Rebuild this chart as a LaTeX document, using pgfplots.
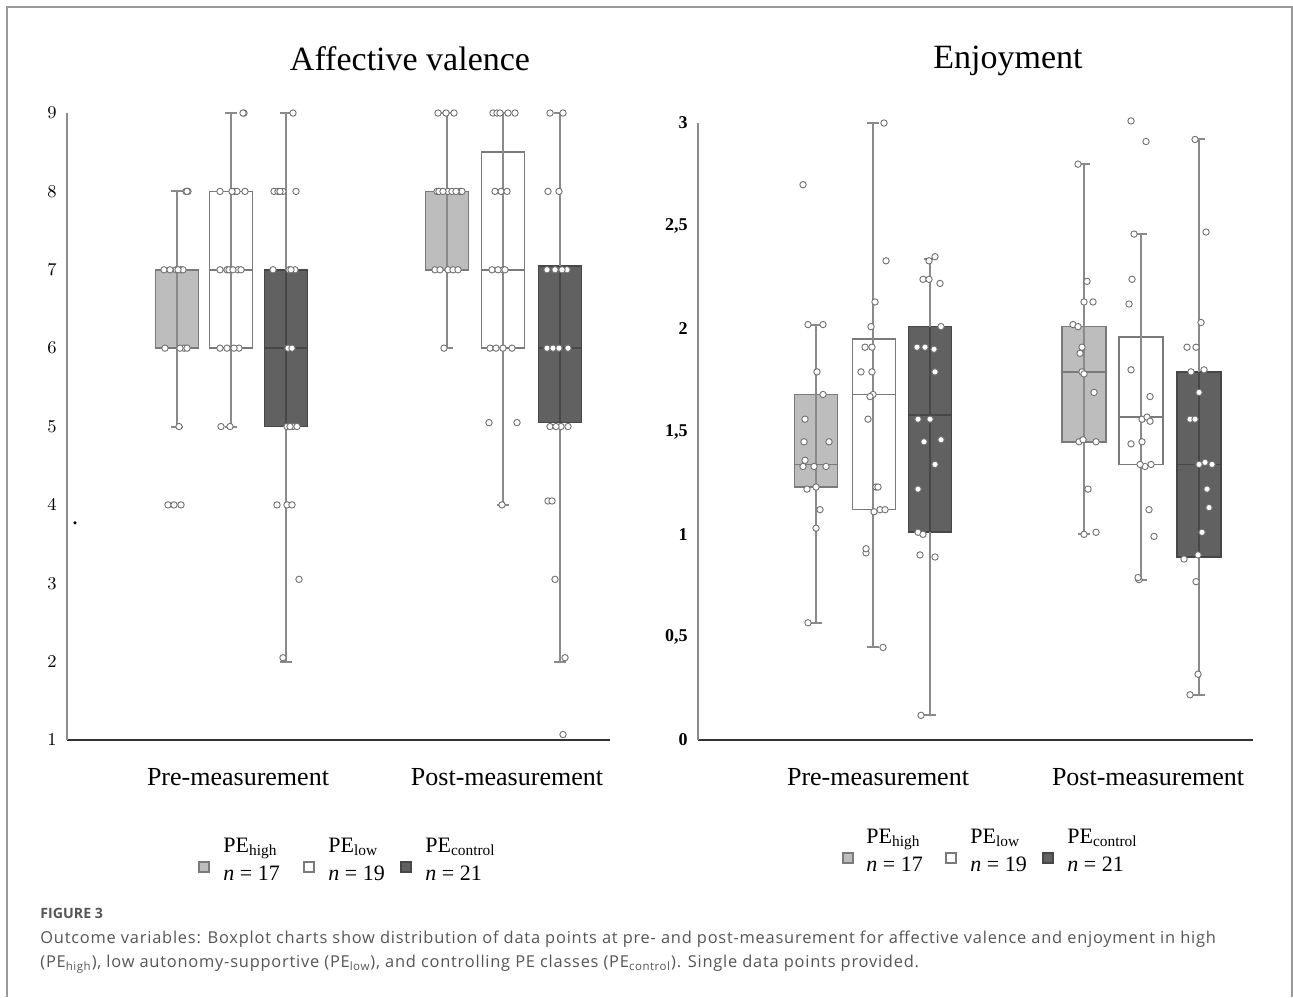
\documentclass[border=0pt]{standalone}
\usepackage{pgfplots}
\pgfplotsset{compat=1.18}
\usepackage{fontspec}
\setmainfont{Liberation Serif}
\newfontfamily\capfont[LetterSpace=4.8]{Open Sans}
\newfontfamily\figfont{Open Sans}
\definecolor{lfill}{HTML}{BDBDBD}
\definecolor{ledge}{HTML}{7A7A7A}
\definecolor{dfill}{HTML}{616161}
\definecolor{dedge}{HTML}{474747}
\definecolor{wcol}{HTML}{8A8A8A}
\definecolor{ptedge}{HTML}{707070}
\definecolor{axgray}{HTML}{8C8C8C}
\definecolor{axdark}{HTML}{333333}
\definecolor{captext}{HTML}{555555}
\pgfplotsset{
  panel/.style={scale only axis, clip=false, axis lines*=left,
    x axis line style={draw=axdark, line width=1.2pt},
    y axis line style={draw=axgray, line width=0.9pt},
    major tick length=0pt, tick style={draw=none},
    xticklabel style={anchor=base, inner sep=0pt, yshift=-22.5pt, font=\fontsize{13}{15}\selectfont},
    yticklabel style={anchor=east, inner sep=0pt, xshift=-5pt, font=\fontsize{9}{10}\selectfont\bfseries},
  },
  lbox/.style={fill=lfill, draw=ledge, line width=0.8pt, mark=none},
  wbox/.style={fill=white, draw=ledge, line width=0.8pt, mark=none},
  dbox/.style={fill=dfill, draw=dedge, line width=0.8pt, mark=none},
  wline/.style={draw=wcol, line width=1pt, mark=none},
  wlined/.style={draw=dedge, line width=1pt, mark=none},
  medl/.style={draw=ledge, line width=0.8pt, mark=none},
  medd/.style={draw=dedge, line width=0.8pt, mark=none},
  pts/.style={only marks, mark=*, mark size=1.6pt, mark options={fill=white, draw=ptedge, line width=0.45pt}},
}
\begin{document}
\begin{tikzpicture}
% ---------------- Affective valence ----------------
\begin{axis}[panel, at={(33.5pt,-370pt)}, anchor=south west,
  width=271.5pt, height=313.5pt, xmin=67, xmax=610, ymin=1, ymax=9,
  xtick={238,507}, xticklabels={Pre-measurement,Post-measurement},
  ytick={1,2,3,4,5,6,7,8,9}]
% boxes (quartiles)
\addplot[lbox] coordinates {(155.5,6) (198.5,6) (198.5,7) (155.5,7)} --cycle;
\addplot[wbox] coordinates {(209.5,6) (252.5,6) (252.5,8) (209.5,8)} --cycle;
\addplot[dbox] coordinates {(264.5,5) (307.5,5) (307.5,7) (264.5,7)} --cycle;
\addplot[lbox] coordinates {(425.5,7) (468.5,7) (468.5,8) (425.5,8)} --cycle;
\addplot[wbox] coordinates {(481.5,6) (524.5,6) (524.5,8.5) (481.5,8.5)} --cycle;
\addplot[dbox] coordinates {(538.5,5.05) (581.5,5.05) (581.5,7.05) (538.5,7.05)} --cycle;
% whiskers
\addplot[wline] coordinates {(177,5) (177,8)};
\addplot[wline] coordinates {(231,5) (231,9)};
\addplot[wline] coordinates {(286,2) (286,9)};
\addplot[wlined] coordinates {(286,5) (286,7)};
\addplot[wline] coordinates {(447,6) (447,9)};
\addplot[wline] coordinates {(503,4) (503,9)};
\addplot[wline] coordinates {(560,2) (560,9)};
\addplot[wlined] coordinates {(560,5.05) (560,7.05)};
% caps
\addplot[wline] coordinates {(171,8) (183,8)};
\addplot[wline] coordinates {(171,5) (183,5)};
\addplot[wline] coordinates {(225,9) (237,9)};
\addplot[wline] coordinates {(225,5) (237,5)};
\addplot[wline] coordinates {(280,9) (292,9)};
\addplot[wline] coordinates {(280,2) (292,2)};
\addplot[wline] coordinates {(441,9) (453,9)};
\addplot[wline] coordinates {(441,6) (453,6)};
\addplot[wline] coordinates {(497,9) (509,9)};
\addplot[wline] coordinates {(497,4) (509,4)};
\addplot[wline] coordinates {(554,9) (566,9)};
\addplot[wline] coordinates {(554,2) (566,2)};
% medians
\addplot[medl] coordinates {(155.5,7) (198.5,7)};
\addplot[medl] coordinates {(209.5,7) (252.5,7)};
\addplot[medd] coordinates {(264.5,6) (307.5,6)};
\addplot[medl] coordinates {(425.5,8) (468.5,8)};
\addplot[medl] coordinates {(481.5,7) (524.5,7)};
\addplot[medd] coordinates {(538.5,6) (581.5,6)};
% data points
\addplot[pts] coordinates {(186,8) (188,8) (187,8) (164,7) (176,7) (181,7) (183,7) (178,7) (170,7) (165,6) (184,6) (187,6) (180,6) (179,5) (168,4) (174,4) (181,4)};
\addplot[pts] coordinates {(244,9) (243,9) (220,8) (235,8) (237,8) (245,8) (232,8) (220,7) (227,7) (229,7) (238,7) (241,7) (233,7) (220,6) (227,6) (239,6) (234,6) (221,5) (230,5)};
\addplot[pts] coordinates {(293,9) (274,8) (278,8) (283,8) (296,8) (280,8) (273,7) (289,7) (295,7) (291,7) (288,6) (292,6) (287,5) (293,5) (297,5) (290,5) (277,4) (287,4) (292,4) (299,3.05) (283,2.05)};
\addplot[pts] coordinates {(438,9) (454,9) (446,9) (437,8) (439,8) (448,8) (460,8) (462,8) (443,8) (452,8) (456,8) (435,7) (448,7) (453,7) (440,7) (458,7) (444,6)};
\addplot[pts] coordinates {(493,9) (497,9) (515,9) (500,9) (508,9) (501,8) (507,8) (495,8) (492,7) (503,7) (505,7) (498,7) (490,6) (503,6) (512,6) (496,6) (489,5.05) (517,5.05) (502,4)};
\addplot[pts] coordinates {(550,9) (563,9) (548,8) (559,8) (547,7) (555,7) (567,7) (562,7) (547,6) (553,6) (559,6) (568,6) (550,5) (561,5) (568,5) (556,5) (548,4.05) (552,4.05) (555,3.05) (565,2.05) (563,1.07)};
\addplot[only marks, mark=*, mark size=0.6pt, black] coordinates {(75,3.77)};
\end{axis}
% ---------------- Enjoyment ----------------
\begin{axis}[panel, at={(349pt,-370pt)}, anchor=south west,
  width=277.5pt, height=308.5pt, xmin=698, xmax=1253, ymin=0, ymax=3,
  xtick={878,1148}, xticklabels={Pre-measurement,Post-measurement},
  ytick={0,0.5,1,1.5,2,2.5,3}, yticklabels={0,{0,5},1,{1,5},2,{2,5},3}]
% boxes
\addplot[lbox] coordinates {(794.5,1.23) (837.5,1.23) (837.5,1.68) (794.5,1.68)} --cycle;
\addplot[wbox] coordinates {(852.5,1.12) (895.5,1.12) (895.5,1.95) (852.5,1.95)} --cycle;
\addplot[dbox] coordinates {(908.5,1.01) (951.5,1.01) (951.5,2.01) (908.5,2.01)} --cycle;
\addplot[lbox] coordinates {(1062,1.45) (1106,1.45) (1106,2.01) (1062,2.01)} --cycle;
\addplot[wbox] coordinates {(1119,1.34) (1163,1.34) (1163,1.96) (1119,1.96)} --cycle;
\addplot[dbox] coordinates {(1177,0.89) (1221,0.89) (1221,1.79) (1177,1.79)} --cycle;
% whiskers
\addplot[wline] coordinates {(816,0.57) (816,2.02)};
\addplot[wline] coordinates {(873,0.45) (873,3.0)};
\addplot[wline] coordinates {(930,0.12) (930,2.34)};
\addplot[wlined] coordinates {(930,1.01) (930,2.01)};
\addplot[wline] coordinates {(1084,1.0) (1084,2.80)};
\addplot[wline] coordinates {(1141,0.78) (1141,2.46)};
\addplot[wline] coordinates {(1199,0.22) (1199,2.92)};
\addplot[wlined] coordinates {(1199,0.89) (1199,1.79)};
% caps
\addplot[wline] coordinates {(810,2.02) (822,2.02)};
\addplot[wline] coordinates {(810,0.57) (822,0.57)};
\addplot[wline] coordinates {(867,3.0) (879,3.0)};
\addplot[wline] coordinates {(867,0.45) (879,0.45)};
\addplot[wline] coordinates {(924,2.34) (936,2.34)};
\addplot[wline] coordinates {(924,0.12) (936,0.12)};
\addplot[wline] coordinates {(1078,2.80) (1090,2.80)};
\addplot[wline] coordinates {(1078,1.0) (1090,1.0)};
\addplot[wline] coordinates {(1135,2.46) (1147,2.46)};
\addplot[wline] coordinates {(1135,0.78) (1147,0.78)};
\addplot[wline] coordinates {(1193,2.92) (1205,2.92)};
\addplot[wline] coordinates {(1193,0.22) (1205,0.22)};
% medians
\addplot[medl] coordinates {(794.5,1.34) (837.5,1.34)};
\addplot[medl] coordinates {(852.5,1.68) (895.5,1.68)};
\addplot[medd] coordinates {(908.5,1.58) (951.5,1.58)};
\addplot[medl] coordinates {(1062,1.79) (1106,1.79)};
\addplot[medl] coordinates {(1119,1.57) (1163,1.57)};
\addplot[medd] coordinates {(1177,1.34) (1221,1.34)};
% data points
\addplot[pts] coordinates {(803,2.70) (808,2.02) (823,2.02) (817,1.79) (823,1.68) (805,1.56) (804,1.45) (829,1.45) (803,1.33) (814,1.33) (826,1.33) (805,1.36) (807,1.22) (816,1.23) (820,1.12) (816,1.03) (808,0.57)};
\addplot[pts] coordinates {(884,3.0) (886,2.33) (875,2.13) (871,2.01) (865,1.91) (872,1.91) (861,1.79) (872,1.79) (873,1.68) (868,1.56) (876,1.23) (878,1.23) (874,1.11) (880,1.12) (885,1.12) (866,0.91) (866,0.93) (883,0.45) (870,1.67)};
\addplot[pts] coordinates {(935,2.35) (929,2.33) (923,2.24) (929,2.24) (940,2.22) (941,2.01) (917,1.91) (925,1.91) (934,1.90) (935,1.79) (918,1.56) (930,1.56) (924,1.45) (941,1.46) (935,1.34) (918,1.22) (918,1.01) (923,1.00) (920,0.90) (935,0.89) (921,0.12)};
\addplot[pts] coordinates {(1078,2.80) (1087,2.23) (1084,2.13) (1093,2.13) (1073,2.02) (1078,2.01) (1082,1.91) (1080,1.88) (1082,1.79) (1084,1.78) (1094,1.69) (1079,1.45) (1083,1.46) (1096,1.45) (1088,1.22) (1084,1.00) (1096,1.01)};
\addplot[pts] coordinates {(1131,3.01) (1146,2.91) (1134,2.46) (1132,2.24) (1129,2.12) (1131,1.80) (1150,1.67) (1142,1.56) (1147,1.57) (1150,1.55) (1131,1.44) (1142,1.45) (1151,1.34) (1145,1.33) (1140,1.34) (1149,1.12) (1154,0.99) (1139,0.78) (1138,0.79)};
\addplot[pts] coordinates {(1195,2.92) (1206,2.47) (1201,2.03) (1187,1.91) (1196,1.91) (1191,1.79) (1204,1.80) (1199,1.69) (1190,1.56) (1195,1.56) (1199,1.34) (1205,1.35) (1212,1.34) (1207,1.22) (1209,1.13) (1202,1.01) (1198,0.90) (1184,0.88) (1196,0.77) (1198,0.32) (1190,0.22)};
\end{axis}
% ---------------- text, legends, caption ----------------
\begin{scope}[x=0.5pt,y=-0.5pt]
\draw[draw=black!40, line width=0.6pt] (7,997) -- (7,7) -- (1292,7) -- (1292,997);
\node[anchor=base, inner sep=0pt, font=\fontsize{17}{20}\selectfont] at (410,70) {Affective valence};
\node[anchor=base, inner sep=0pt, font=\fontsize{17}{20}\selectfont] at (1008,68) {Enjoyment};
% left legend
\draw[fill=lfill, draw=ledge, line width=0.6pt] (199,862) rectangle (209,872);
\draw[fill=white, draw=ledge, line width=0.6pt] (304,862) rectangle (314,872);
\draw[fill=dfill, draw=dedge, line width=0.6pt] (401,862) rectangle (411,872);
\begin{scope}[every node/.style={anchor=base west, inner sep=0pt, font=\fontsize{11}{13}\selectfont}]
\node at (223,852) {PE\textsubscript{high}};
\node at (223,880) {\textit{n} = 17};
\node at (328,852) {PE\textsubscript{low}};
\node at (328,880) {\textit{n} = 19};
\node at (425,852) {PE\textsubscript{control}};
\node at (425,880) {\textit{n} = 21};
% right legend
\node at (866,843) {PE\textsubscript{high}};
\node at (866,871) {\textit{n} = 17};
\node at (970,843) {PE\textsubscript{low}};
\node at (970,871) {\textit{n} = 19};
\node at (1067,843) {PE\textsubscript{control}};
\node at (1067,871) {\textit{n} = 21};
\end{scope}
\draw[fill=lfill, draw=ledge, line width=0.6pt] (843,853) rectangle (853,863);
\draw[fill=white, draw=ledge, line width=0.6pt] (946,853) rectangle (956,863);
\draw[fill=dfill, draw=dedge, line width=0.6pt] (1043,853) rectangle (1053,863);
% caption
\begin{scope}[every node/.style={anchor=base west, inner sep=0pt, text=captext}]
\node[font=\figfont\bfseries\fontsize{7.1}{8}\selectfont] at (40,918) {FIGURE 3};
\node[font=\capfont\fontsize{8.2}{10}\selectfont] at (40,943) {Outcome variables: Boxplot charts show distribution of data points at pre- and post-measurement for affective valence and enjoyment in high};
\node[font=\capfont\fontsize{8.2}{10}\selectfont] at (40,967) {(PE\textsubscript{high}), low autonomy-supportive (PE\textsubscript{low}), and controlling PE classes (PE\textsubscript{control}). Single data points provided.};
\end{scope}
\end{scope}
\pgfresetboundingbox
\path[use as bounding box] (0pt,0pt) rectangle (646.5pt,-498.5pt);
\end{tikzpicture}
\end{document}
